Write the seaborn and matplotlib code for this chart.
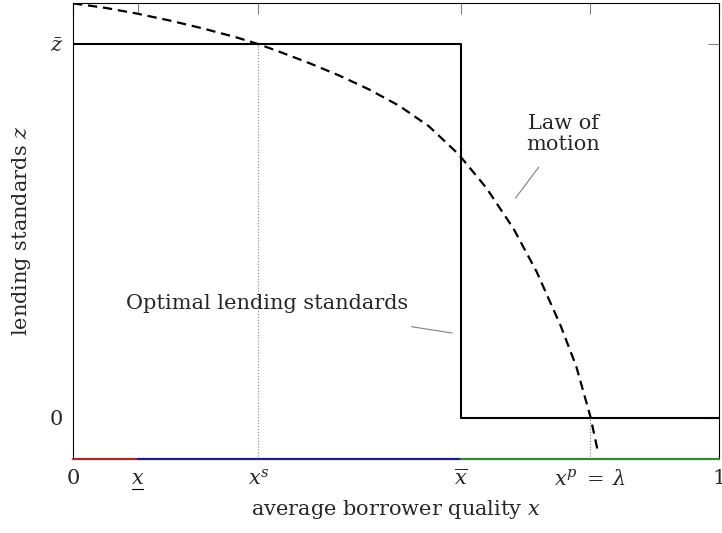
import matplotlib
matplotlib.use("Agg")
import matplotlib.pyplot as plt
from matplotlib.lines import Line2D
import seaborn as sns
import pandas as pd

# --- data -------------------------------------------------------------
x_lo, x_s, x_bar, x_p = 0.1, 0.287, 0.6, 0.8
z_bar = 1.0

x_ticks = [0, x_lo, x_s, x_bar, x_p, 1]
x_ticklabels = ["0", r"$x$", r"$x^s$", r"$\overline{x}$", r"$x^p \;=\; \lambda$", "1"]
y_ticks = [0, z_bar]
y_ticklabels = ["0", r"$\bar{z}$"]

# optimal lending standards (step)
step_x = [0, x_bar, x_bar, 1]
step_z = [z_bar, z_bar, 0, 0]

# law of motion
lom_x = [0.0, 0.05, 0.098, 0.15, 0.201, 0.253, 0.287, 0.319, 0.366, 0.412, 0.458,
         0.505, 0.551, 0.597, 0.640, 0.682, 0.718, 0.755, 0.779, 0.801, 0.813]
lom_z = [1.109, 1.097, 1.082, 1.063, 1.042, 1.018, 1.0, 0.980, 0.949, 0.916, 0.879,
         0.835, 0.780, 0.705, 0.615, 0.506, 0.390, 0.246, 0.138, 0.003, -0.094]

# coloured regions on the x-axis
seg_x0 = [0, x_lo, x_bar]
seg_x1 = [x_lo, x_bar, 1]
seg_colors = ["#b22222", "#1a1a9c", "#2e8b2e"]

ylim = (-0.11, 1.11)

# --- plot -------------------------------------------------------------
sns.set_theme(style="white")
plt.rcParams["font.family"] = ["DejaVu Serif"]
plt.rcParams["mathtext.fontset"] = "dejavuserif"

fig = plt.figure(figsize=(7.22, 5.33), dpi=100)
ax = fig.add_axes([73 / 722, 1 - 459 / 533, (719 - 73) / 722, (459 - 3) / 533])

step_df = pd.DataFrame({"x": step_x, "z": step_z})
lom_df = pd.DataFrame({"x": lom_x, "z": lom_z})

sns.lineplot(data=step_df, x="x", y="z", sort=False, estimator=None, errorbar=None,
             color="black", lw=1.5, ax=ax)
sns.lineplot(data=lom_df, x="x", y="z", sort=False, estimator=None, errorbar=None,
             color="black", lw=1.6, ax=ax)
lom_line = ax.lines[-1]
lom_line.set_linestyle((0, (4.2, 2.6)))

ax.vlines(x_s, ylim[0], z_bar, colors="gray", linestyles=":", lw=0.8)
ax.vlines(x_p, ylim[0], 0, colors="gray", linestyles=":", lw=0.8)

for a, b, c in zip(seg_x0, seg_x1, seg_colors):
    ax.plot([a, b], [ylim[0], ylim[0]], color=c, lw=1.6, clip_on=False, zorder=5)

ax.set_xlim(0, 1)
ax.set_ylim(*ylim)
ax.set_xticks(x_ticks)
ax.set_xticklabels(x_ticklabels)
ax.set_yticks(y_ticks)
ax.set_yticklabels(y_ticklabels)
ax.tick_params(direction="in", length=8, width=0.8, color="gray",
               top=True, right=True, labelsize=15, pad=7)

for s in ["left", "right", "top"]:
    ax.spines[s].set_color("black")
    ax.spines[s].set_linewidth(0.8)
ax.spines["bottom"].set_visible(False)

ax.set_xlabel(r"average borrower quality $x$", fontsize=15, labelpad=6)
ax.set_ylabel(r"lending standards $z$", fontsize=15, labelpad=12)

ax.text(0.301, 0.307, "Optimal lending standards", fontsize=15, ha="center", va="center")
ax.text(0.759, 0.759, "Law of\nmotion", fontsize=15, ha="center", va="center", linespacing=1.1)
ax.annotate("", xy=(0.587, 0.227), xytext=(0.524, 0.244),
            arrowprops=dict(arrowstyle="-", color="gray", lw=0.8, shrinkA=0, shrinkB=0))
ax.annotate("", xy=(0.685, 0.588), xytext=(0.721, 0.671),
            arrowprops=dict(arrowstyle="-", color="gray", lw=0.8, shrinkA=0, shrinkB=0))

# underline under the x-underline tick label
fig.canvas.draw()
renderer = fig.canvas.get_renderer()
lab = ax.get_xticklabels()[1]
bb = lab.get_window_extent(renderer)
W, H = fig.bbox.width, fig.bbox.height
yline = bb.y0 - 1
fig.add_artist(Line2D([(bb.x0 + 1) / W, (bb.x1 - 1) / W], [yline / H, yline / H],
                      transform=fig.transFigure, color="black", lw=0.8))

fig.savefig("out.png", dpi=100)
